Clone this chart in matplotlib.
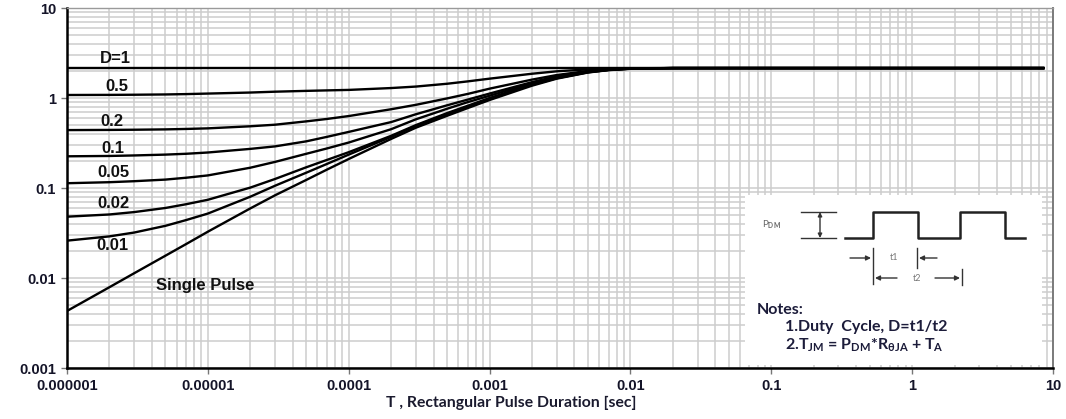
import matplotlib
matplotlib.use("Agg")
import matplotlib.pyplot as plt
from matplotlib.ticker import LogLocator, FixedLocator, FixedFormatter, NullFormatter
from matplotlib.patches import Rectangle

# ---------------- data ----------------
t = [1e-6, 2e-6, 3e-6, 5e-6, 7e-6,
     1e-5, 2e-5, 3e-5, 5e-5, 7e-5,
     1e-4, 2e-4, 3e-4, 5e-4, 7e-4,
     1e-3, 2e-3, 3e-3, 5e-3, 7e-3,
     1e-2, 2e-2, 5e-2, 1.0, 8.7]

z_d100 = [2.15] * 25
z_d050 = [1.08, 1.083, 1.087, 1.095, 1.105,
          1.12, 1.15, 1.175, 1.20, 1.215,
          1.23, 1.29, 1.34, 1.44, 1.53,
          1.64, 1.86, 1.98, 2.08, 2.12,
          2.14, 2.15, 2.15, 2.15, 2.15]
z_d020 = [0.44, 0.442, 0.444, 0.448, 0.453,
          0.46, 0.485, 0.505, 0.55, 0.585,
          0.63, 0.75, 0.84, 0.99, 1.11,
          1.27, 1.60, 1.80, 2.00, 2.08,
          2.13, 2.15, 2.15, 2.15, 2.15]
z_d010 = [0.225, 0.227, 0.23, 0.235, 0.24,
          0.248, 0.272, 0.29, 0.33, 0.37,
          0.42, 0.54, 0.66, 0.83, 0.96,
          1.12, 1.50, 1.74, 1.98, 2.07,
          2.13, 2.15, 2.15, 2.15, 2.15]
z_d005 = [0.113, 0.116, 0.119, 0.124, 0.13,
          0.138, 0.168, 0.195, 0.24, 0.275,
          0.32, 0.45, 0.58, 0.76, 0.90,
          1.06, 1.46, 1.71, 1.96, 2.06,
          2.12, 2.15, 2.15, 2.15, 2.15]
z_d002 = [0.048, 0.0508, 0.054, 0.060, 0.066,
          0.074, 0.101, 0.126, 0.17, 0.205,
          0.25, 0.38, 0.50, 0.68, 0.82,
          1.00, 1.42, 1.67, 1.94, 2.05,
          2.12, 2.15, 2.15, 2.15, 2.15]
z_d001 = [0.026, 0.029, 0.032, 0.038, 0.044,
          0.052, 0.080, 0.106, 0.148, 0.185,
          0.235, 0.37, 0.49, 0.66, 0.80,
          0.98, 1.40, 1.66, 1.93, 2.05,
          2.12, 2.15, 2.15, 2.15, 2.15]
z_single = [0.0043, 0.0079, 0.0113, 0.0177, 0.0238,
            0.0327, 0.0593, 0.083, 0.123, 0.16,
            0.21, 0.351, 0.468, 0.635, 0.773,
            0.95, 1.37, 1.64, 1.92, 2.04,
            2.11, 2.145, 2.15, 2.15, 2.15]

series = [z_d100, z_d050, z_d020, z_d010, z_d005, z_d002, z_d001, z_single]
labels = ["D=1", "0.5", "0.2", "0.1", "0.05", "0.02", "0.01", "Single Pulse"]
label_pos = [(0.0487, 0.861), (0.0507, 0.783), (0.0456, 0.684), (0.0467, 0.611),
             (0.0467, 0.544), (0.0467, 0.458), (0.0456, 0.339), (0.140, 0.228)]

x_ticks = [1e-6, 1e-5, 1e-4, 1e-3, 1e-2, 1e-1, 1, 10]
x_ticklabels = ["0.000001", "0.00001", "0.0001", "0.001", "0.01", "0.1", "1", "10"]
y_ticks = [1e-3, 1e-2, 1e-1, 1, 10]
y_ticklabels = ["0.001", "0.01", "0.1", "1", "10"]
x_label = "T , Rectangular Pulse Duration [sec]"

# ---------------- figure ----------------
W, H = 1066, 419
fig = plt.figure(figsize=(W / 100, H / 100), dpi=100)
plt.rcParams['mathtext.fontset'] = 'custom'
plt.rcParams['mathtext.rm'] = 'Lato:bold'
plt.rcParams['mathtext.it'] = 'Lato:bold'
plt.rcParams['mathtext.bf'] = 'Lato:bold'

ax = fig.add_axes([67 / W, 1 - 368 / H, 986 / W, 360 / H])
ax.set_xscale('log')
ax.set_yscale('log')
ax.set_xlim(1e-6, 10)
ax.set_ylim(1e-3, 10)

ax.xaxis.set_major_locator(FixedLocator(x_ticks))
ax.xaxis.set_major_formatter(FixedFormatter(x_ticklabels))
ax.yaxis.set_major_locator(FixedLocator(y_ticks))
ax.yaxis.set_major_formatter(FixedFormatter(y_ticklabels))
ax.xaxis.set_minor_locator(LogLocator(base=10, subs=range(2, 10), numticks=50))
ax.yaxis.set_minor_locator(LogLocator(base=10, subs=range(2, 10), numticks=50))
ax.xaxis.set_minor_formatter(NullFormatter())
ax.yaxis.set_minor_formatter(NullFormatter())

ax.grid(True, which='both', color='#cdcdcd', linewidth=1.1)
ax.set_axisbelow(True)
ax.tick_params(which='major', direction='out', length=4, width=1, color='#777777',
               pad=4, labelsize=10.5, labelcolor='#141428')
ax.tick_params(which='minor', length=0)
for lab in ax.get_xticklabels() + ax.get_yticklabels():
    lab.set_fontfamily('Liberation Sans')
    lab.set_fontweight('bold')

for side in ('left', 'bottom'):
    ax.spines[side].set_color('black')
    ax.spines[side].set_linewidth(1.8)
ax.spines['top'].set_color('#9a9a9a')
ax.spines['top'].set_linewidth(1.0)
ax.spines['right'].set_color('#7a7a7a')
ax.spines['right'].set_linewidth(1.4)

for ys in series:
    ax.plot(t, ys, color='black', linewidth=1.7, solid_capstyle='butt')

for lab, (px, py) in zip(labels, label_pos):
    ax.text(px, py, lab, transform=ax.transAxes, ha='center', va='center',
            fontsize=12, fontweight='bold', family='Liberation Sans', color='#111111')

fig.text(511 / W, 1 - 403 / H, x_label, ha='center', va='center', fontsize=11.3,
         fontweight='bold', family='Lato', color='#1a1a2e')

# ---------------- inset note box (pixel coordinates overlay) ----------------
ov = fig.add_axes([0, 0, 1, 1])
ov.set_xlim(0, W)
ov.set_ylim(H, 0)
ov.axis('off')
ov.patch.set_alpha(0)

ov.add_patch(Rectangle((745, 195), 297, 170, facecolor='white', edgecolor='none'))

wx = [845, 873, 873, 918, 918, 960, 960, 1005, 1005, 1025]
wy = [238, 238, 212, 212, 238, 238, 212, 212, 238, 238]
ov.plot(wx, wy, color='#222222', linewidth=1.8)

ov.plot([801, 836], [212, 212], color='#333333', linewidth=1.0)
ov.plot([801, 836], [238, 238], color='#333333', linewidth=1.0)
ov.annotate('', xy=(820, 212), xytext=(820, 238),
            arrowprops=dict(arrowstyle='<|-|>', color='#333333', lw=1.0,
                            mutation_scale=6, shrinkA=0, shrinkB=0))
ov.text(762, 225, r'P$_{\rm DM}$', fontsize=7, color='#666666', va='center',
        ha='left', family='Lato')

ov.plot([873, 873], [248, 284], color='#333333', linewidth=1.0)
ov.plot([917, 917], [248, 268], color='#333333', linewidth=1.0)
ov.plot([962, 962], [269, 285], color='#333333', linewidth=1.0)
arr = dict(arrowstyle='-|>', color='#333333', lw=1.0, mutation_scale=7, shrinkA=0, shrinkB=0)
ov.annotate('', xy=(871, 258), xytext=(850, 258), arrowprops=arr)
ov.annotate('', xy=(919, 258), xytext=(937, 258), arrowprops=arr)
ov.annotate('', xy=(875, 278), xytext=(897, 278), arrowprops=arr)
ov.annotate('', xy=(960, 278), xytext=(935, 278), arrowprops=arr)
ov.text(894, 257, 't1', fontsize=6.5, color='#777777', ha='center', va='center', family='Lato')
ov.text(917, 278, 't2', fontsize=6.5, color='#777777', ha='center', va='center', family='Lato')

note_col = '#1c1c3a'
ov.text(757, 310, 'Notes:', fontsize=11.5, fontweight='bold', family='Lato',
        color=note_col, ha='left', va='center')
ov.text(785, 327, '1.Duty  Cycle, D=t1/t2', fontsize=11.5, fontweight='bold', family='Lato',
        color=note_col, ha='left', va='center')
ov.text(785, 345, r'2.T$_{\rm JM}$ = P$_{\rm DM}$*R$_{\theta\rm JA}$ + T$_{\rm A}$',
        fontsize=11.5, fontweight='bold', family='Lato', color=note_col, ha='left', va='center')

fig.savefig('out.png', dpi=100)
